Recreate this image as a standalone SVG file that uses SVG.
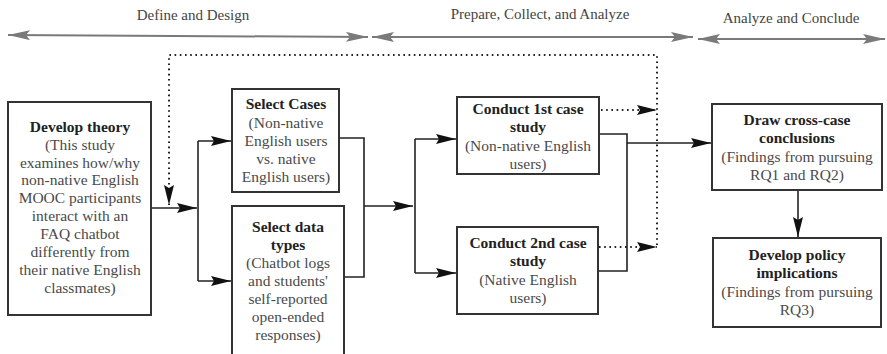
<svg xmlns="http://www.w3.org/2000/svg" width="887" height="354" viewBox="0 0 887 354" font-family="'Liberation Serif', Tinos, 'Times New Roman', 'DejaVu Serif', serif">
<style>
text{font-family:'Liberation Serif',Tinos,'Times New Roman','DejaVu Serif',serif;font-size:15.5px;text-anchor:middle;fill:#4a4a4a}
.b{font-weight:bold;fill:#222}
.ph{font-size:15px;fill:#444}
.box{fill:#fff;stroke:#333;stroke-width:2}
.c{fill:none;stroke:#222;stroke-width:1.6}
.d{fill:none;stroke:#222;stroke-width:2;stroke-dasharray:1.6 3.6}
.g{fill:none;stroke:#7a7a7a;stroke-width:2}
</style>
<defs>
<marker id="ah" markerUnits="userSpaceOnUse" markerWidth="22" markerHeight="12" refX="20" refY="5" orient="auto">
<path d="M0,0 L20,5 L0,10 L3,5 Z" fill="#111"/>
</marker>
<marker id="gh" markerUnits="userSpaceOnUse" markerWidth="24" markerHeight="12" refX="22" refY="5" orient="auto-start-reverse">
<path d="M0,0 L22,5 L0,10 L4,5 Z" fill="#7a7a7a"/>
</marker>
</defs>
<g id="phases">
<text class="ph" x="193" y="20">Define and Design</text>
<text class="ph" x="540" y="19">Prepare, Collect, and Analyze</text>
<text class="ph" x="791" y="23">Analyze and Conclude</text>
<path class="g" d="M8,35 L368,37" marker-start="url(#gh)" marker-end="url(#gh)"/>
<path class="g" d="M372,37 L693,37" marker-start="url(#gh)" marker-end="url(#gh)"/>
<path class="g" d="M698,39 L885,39" marker-start="url(#gh)" marker-end="url(#gh)"/>
</g>
<g id="connectors">
<path class="c" d="M151,208 L197,208" marker-end="url(#ah)"/>
<path class="c" d="M198,281 L198,141"/>
<path class="c" d="M198,141 L231,141" marker-end="url(#ah)"/>
<path class="c" d="M198,281 L231,281" marker-end="url(#ah)"/>
<path class="c" d="M339,138 L364,138 L364,277 L344,277"/>
<path class="c" d="M364,206 L413,206" marker-end="url(#ah)"/>
<path class="c" d="M415,273 L415,139"/>
<path class="c" d="M415,139 L456,139" marker-end="url(#ah)"/>
<path class="c" d="M415,273 L456,273" marker-end="url(#ah)"/>
<path class="c" d="M599,134 L627,134 L627,271 L598,271"/>
<path class="c" d="M627,143 L711,143" marker-end="url(#ah)"/>
<path class="c" d="M798,190 L798,237" marker-end="url(#ah)"/>
<path class="d" d="M657,245 L657,55 L169,55 L169,205" marker-end="url(#ah)"/>
<path class="d" d="M601,110 L657,110" marker-end="url(#ah)"/>
<path class="d" d="M599,247 L657,247" marker-end="url(#ah)"/>
</g>
<g id="develop-theory">
<rect class="box" x="8" y="102" width="143" height="213"/>
<text class="b" x="80" y="132">Develop theory</text>
<text x="80" y="150">(This study</text>
<text x="80" y="168">examines how/why</text>
<text x="80" y="185">non-native English</text>
<text x="80" y="203">MOOC participants</text>
<text x="80" y="221">interact with an</text>
<text x="80" y="239">FAQ chatbot</text>
<text x="80" y="257">differently from</text>
<text x="80" y="275">their native English</text>
<text x="80" y="293">classmates)</text>
</g>
<g id="select-cases">
<rect class="box" x="232" y="89" width="107" height="103"/>
<text class="b" x="286" y="109">Select Cases</text>
<text x="286" y="128">(Non-native</text>
<text x="286" y="146">English users</text>
<text x="286" y="164">vs. native</text>
<text x="286" y="182">English users)</text>
</g>
<g id="select-data-types">
<rect class="box" x="232" y="206" width="112" height="152"/>
<text class="b" x="288" y="232">Select data</text>
<text class="b" x="288" y="250">types</text>
<text x="288" y="268">(Chatbot logs</text>
<text x="288" y="286">and students'</text>
<text x="288" y="304">self-reported</text>
<text x="288" y="322">open-ended</text>
<text x="288" y="340">responses)</text>
</g>
<g id="conduct-1st">
<rect class="box" x="457" y="97" width="142" height="77"/>
<text class="b" x="528" y="114">Conduct 1st case</text>
<text class="b" x="528" y="132">study</text>
<text x="528" y="151">(Non-native English</text>
<text x="528" y="169">users)</text>
</g>
<g id="conduct-2nd">
<rect class="box" x="457" y="227" width="141" height="87"/>
<text class="b" x="528" y="248">Conduct 2nd case</text>
<text class="b" x="528" y="266">study</text>
<text x="528" y="285">(Native English</text>
<text x="528" y="303">users)</text>
</g>
<g id="draw-conclusions">
<rect class="box" x="712" y="104" width="170" height="86"/>
<text class="b" x="797" y="125">Draw cross-case</text>
<text class="b" x="797" y="143">conclusions</text>
<text x="797" y="162">(Findings from pursuing</text>
<text x="797" y="180">RQ1 and RQ2)</text>
</g>
<g id="develop-policy">
<rect class="box" x="713" y="238" width="168" height="89"/>
<text class="b" x="797" y="260">Develop policy</text>
<text class="b" x="797" y="278">implications</text>
<text x="797" y="297">(Findings from pursuing</text>
<text x="797" y="315">RQ3)</text>
</g>
</svg>
